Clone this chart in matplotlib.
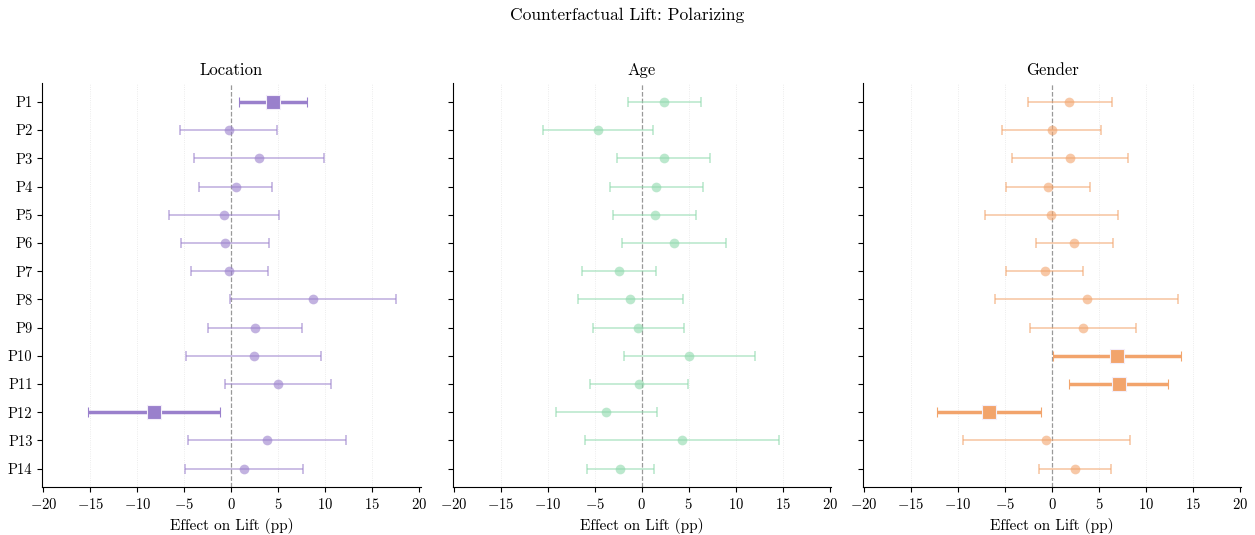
import numpy as np
import matplotlib
matplotlib.use("Agg")
import matplotlib.pyplot as plt

plt.rcParams['font.family'] = 'serif'
plt.rcParams['font.serif'] = ['cmr10']
plt.rcParams['mathtext.fontset'] = 'cm'
plt.rcParams['axes.formatter.use_mathtext'] = True
plt.rcParams['axes.unicode_minus'] = True

prompts = ["P%d" % i for i in range(1, 15)]
panels = ["Location", "Age", "Gender"]

# point estimates and CI bounds
loc_est = [4.43, -0.28, 2.94, 0.46, -0.78, -0.67, -0.25, 8.65, 2.52, 2.41, 5.0, -8.23, 3.79, 1.38]
loc_lo = [0.78, -5.46, -4.0, -3.4, -6.6, -5.35, -4.33, -0.14, -2.48, -4.79, -0.64, -15.25, -4.57, -4.89]
loc_hi = [8.09, 4.89, 9.89, 4.36, 5.07, 4.04, 3.87, 17.5, 7.55, 9.57, 10.64, -1.17, 12.2, 7.62]

age_est = [2.42, -4.62, 2.34, 1.56, 1.39, 3.41, -2.42, -1.21, -0.39, 5.08, -0.28, -3.77, 4.26, -2.27]
age_lo = [-1.46, -10.5, -2.6, -3.37, -3.06, -2.13, -6.36, -6.79, -5.22, -1.92, -5.47, -9.13, -6.0, -5.83]
age_hi = [6.29, 1.24, 7.28, 6.54, 5.79, 8.99, 1.56, 4.4, 4.48, 12.11, 4.9, 1.6, 14.56, 1.31]

gen_est = [1.84, -0.04, 1.91, -0.46, -0.11, 2.38, -0.74, 3.69, 3.33, 6.91, 7.13, -6.7, -0.6, 2.45]
gen_lo = [-2.59, -5.28, -4.26, -4.93, -7.16, -1.74, -4.86, -6.06, -2.3, 0.07, 1.84, -12.23, -9.47, -1.35]
gen_hi = [6.38, 5.21, 8.12, 4.01, 6.99, 6.49, 3.3, 13.44, 8.94, 13.76, 12.38, -1.13, 8.3, 6.28]

colors = ["#9a80cc", "#8fd9ad", "#f2a46c"]

data = [(loc_est, loc_lo, loc_hi), (age_est, age_lo, age_hi), (gen_est, gen_lo, gen_hi)]

fig = plt.figure(figsize=(12.55, 5.35), dpi=100)
lefts = [0.0337, 0.3607, 0.6876]
axes = []
for i in range(3):
    ax = fig.add_axes([lefts[i], 0.0892, 0.3015, 0.7557])
    axes.append(ax)

y = np.arange(len(prompts))

for k, ax in enumerate(axes):
    est, lo, hi = [np.array(a) for a in data[k]]
    col = colors[k]
    for xv in [-15, -10, -5, 5, 10, 15]:
        ax.axvline(xv, color="#e6e6e6", lw=0.6, ls=":", zorder=0)
    ax.axvline(0, color="#999999", lw=0.9, ls="--", zorder=1)
    for j in range(len(prompts)):
        sig = lo[j] > 0 or hi[j] < 0
        err = [[est[j] - lo[j]], [hi[j] - est[j]]]
        if sig:
            ax.errorbar(est[j], y[j], xerr=err, fmt="s", color=col, ms=10,
                        mec="#f4eefa", mew=0.8, elinewidth=2.5, capsize=3.5,
                        capthick=2.5, zorder=3)
        else:
            ax.errorbar(est[j], y[j], xerr=err, fmt="none", ecolor=col,
                        alpha=0.55, elinewidth=1.3, capsize=3.5, capthick=1.3,
                        zorder=2)
            ax.plot(est[j], y[j], "o", color=col, ms=7, mew=0, alpha=0.6,
                    zorder=2)
    ax.set_xlim(-20.1, 20.15)
    ax.set_ylim(13.66, -0.67)
    ax.set_xticks([-20, -15, -10, -5, 0, 5, 10, 15, 20])
    ax.set_yticks(y)
    if k == 0:
        ax.set_yticklabels(prompts, fontsize=10.5)
    else:
        ax.set_yticklabels([])
    ax.tick_params(axis="x", labelsize=10.5)
    ax.set_xlabel("Effect on Lift (pp)", fontsize=11)
    ax.set_title(panels[k], fontsize=12)
    ax.spines["top"].set_visible(False)
    ax.spines["right"].set_visible(False)

fig.suptitle("Counterfactual Lift: Polarizing", fontsize=12.5, y=0.985)
fig.savefig("out.png", dpi=100)
